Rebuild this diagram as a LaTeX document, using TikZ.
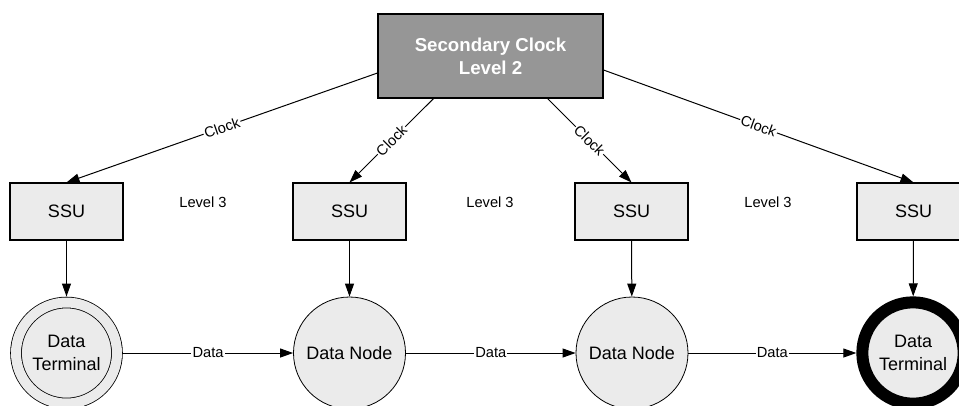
\documentclass[tikz,border=0pt]{standalone}
\usepackage{fontspec}
\setmainfont{Liberation Sans}
\usetikzlibrary{arrows.meta}
\definecolor{clockgray}{RGB}{150,150,150}
\definecolor{unitgray}{RGB}{235,235,235}

\begin{document}
\begin{tikzpicture}[
    x=0.75pt,
    y=-0.75pt,
    clockbox/.style={
        draw,
        fill=clockgray,
        minimum width=168.75pt,
        minimum height=63pt,
        align=center,
        text=white,
        font=\fontsize{14}{17}\selectfont\bfseries,
        line width=0.8pt
    },
    ssu/.style={
        draw,
        fill=unitgray,
        minimum width=84.75pt,
        minimum height=42.75pt,
        font=\fontsize{13.5}{16}\selectfont,
        line width=0.8pt
    },
    datanode/.style={
        draw,
        circle,
        fill=unitgray,
        minimum size=84pt,
        inner sep=0pt,
        align=center,
        font=\fontsize{13.5}{17}\selectfont,
        line width=0.6pt
    },
    level/.style={font=\fontsize{11}{13}\selectfont},
    edge/.style={-{Triangle[length=9.75pt, width=6.75pt]}, line width=0.75pt},
    tag/.style={fill=white, inner sep=0.8pt, font=\fontsize{11}{13}\selectfont}
]

\useasboundingbox (0,0) rectangle (959,405);

% === Level 2 ===
\node[clockbox] (secondary) at (490.5, 56)
{Secondary Clock\\Level 2};

% === Level 3 ===
\node[ssu] (ssu1) at (66.5, 211.5) {SSU};
\node[ssu] (ssu2) at (349.5, 211.5) {SSU};
\node[ssu] (ssu3) at (631.5, 211.5) {SSU};
\node[ssu] (ssu4) at (913.5, 211.5) {SSU};

\node[level] (lvl1) at (203, 202) {Level 3};
\node[level] (lvl2) at (490, 202) {Level 3};
\node[level] (lvl3) at (768, 202) {Level 3};

% === Data nodes ===
\node[datanode, minimum size=75.75pt, double=unitgray, double distance=7.5pt, outer sep=4.5pt]
    (term1) at (66.5, 353) {Data\\Terminal};
\node[datanode] (node1) at (349.5, 353) {Data Node};
\node[datanode] (node2) at (632, 353) {Data Node};
\node[datanode, minimum size=76pt, line width=9pt] (term2) at (913, 353) {Data\\Terminal};

% === Clock distribution ===
\draw[edge] ([shift={(0,17)}]secondary.west) -- node[tag, sloped] {Clock} (ssu1.north);
\draw[edge] ([shift={(-57,0)}]secondary.south) -- node[tag, sloped] {Clock} (ssu2.north);
\draw[edge] ([shift={(57,0)}]secondary.south) -- node[tag, sloped] {Clock} (ssu3.north);
\draw[edge] ([shift={(0,14)}]secondary.east) -- node[tag, sloped] {Clock} (ssu4.north);

% === SSU vers noeuds ===
\draw[edge] (ssu1) -- (term1);
\draw[edge] (ssu2) -- (node1);
\draw[edge] (ssu3) -- (node2);
\draw[edge] (ssu4) -- (term2);

% === Data ===
\draw[edge] (term1) -- node[tag] {Data} (node1);
\draw[edge] (node1) -- node[tag] {Data} (node2);
\draw[edge] (node2) -- node[tag] {Data} (term2);

\end{tikzpicture}
\end{document}
